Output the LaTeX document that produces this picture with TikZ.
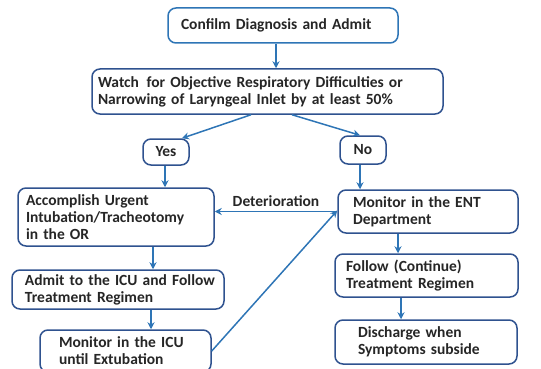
\documentclass[tikz,border=0pt]{standalone}
\usepackage{fontspec}
\setmainfont{Carlito}
\usetikzlibrary{arrows.meta}
\definecolor{boxblue}{HTML}{2F528F}
\definecolor{lightbox}{HTML}{2E75B6}
\definecolor{arrblue}{HTML}{2E75B6}
\definecolor{txt}{HTML}{262626}
\newcommand\lp[1]{\hspace*{#1pt}}
\tikzset{
  box/.style={draw=boxblue, line width=1.5pt, rounded corners=8pt, fill=white,
    align=left, font=\fontsize{15.5}{17}\selectfont\bfseries, text=txt,
    inner xsep=0pt, inner ysep=2pt},
  conn/.style={draw=arrblue, line width=1.5pt, -{Stealth[length=7pt,width=7pt]}},
  lbl/.style={font=\fontsize{15.5}{17}\selectfont\bfseries, text=txt}
}
\begin{document}
\begin{tikzpicture}[x=1pt,y=-1pt]
\useasboundingbox (0,0) rectangle (541,369);
\node[box, draw=lightbox, minimum height=35, text width=230] (confirm) at (283,25.5) {\lp{13}Confilm Diagnosis and Admit};
\node[box, minimum height=45, text width=351] (watch) at (267.5,91.5) {\lp{6}Watch\, for Objective Respiratory Difficulties or\\\lp{6}Narrowing of Laryngeal Inlet by at least 50\%};
\node[box, minimum height=26, align=center, text width=46] (yes) at (166,152) {Yes};
\node[box, minimum height=28, align=center, text width=46] (no) at (363,150) {No};
\node[box, minimum height=58, text width=196] (acc) at (116,217) {\lp{8}Accomplish Urgent\\\lp{8}Intubation/Tracheotomy\\\lp{8}in the OR};
\node[box, minimum height=39, text width=212] (admit) at (118,289.5) {\lp{13}Admit to the ICU and Follow\\\lp{13}Treatment Regimen};
\node[box, minimum height=42, text width=171] (icu) at (125.5,351) {\lp{19}Monitor in the ICU\\\lp{19}until Extubation};
\node[box, minimum height=43, text width=180] (ent) at (428,211.5) {\lp{15}Monitor in the ENT\\\lp{15}Department};
\node[box, minimum height=43, text width=183] (follow) at (426.5,275.5) {\lp{11}Follow (Continue)\\\lp{11}Treatment Regimen};
\node[box, minimum height=44, text width=182] (dis) at (426,342) {\lp{23}Discharge when\\\lp{23}Symptoms subside};
% connectors
\draw[conn] ([xshift=-7]confirm.south) -- ([xshift=8.5]watch.north);
\draw[conn] ([xshift=-16.5]watch.south) -- ([xshift=16]yes.north);
\draw[conn] ([xshift=24.5]watch.south) -- ([xshift=-3]no.north);
\draw[conn] ([xshift=-1]yes.south) -- ([xshift=-1]yes.south |- acc.north);
\draw[conn] ([xshift=-3]no.south) -- ([xshift=-3]no.south |- ent.north);
\draw[conn] ([xshift=37]acc.south) -- ([xshift=37]acc.south |- admit.north);
\draw[conn] ([xshift=33]admit.south) -- ([xshift=33]admit.south |- icu.north);
\draw[conn] ([xshift=-30]ent.south) -- ([xshift=-30]ent.south |- follow.north);
\draw[conn] ([xshift=-25.5]follow.south) -- ([xshift=-25.5]follow.south |- dis.north);
\draw[conn] (ent.west) -- (acc.east |- ent.west) node[lbl, midway, above=1pt] (det) {Deterioration};
\draw[conn] (icu.east) -- ([yshift=1]ent.west);
\end{tikzpicture}
\end{document}
